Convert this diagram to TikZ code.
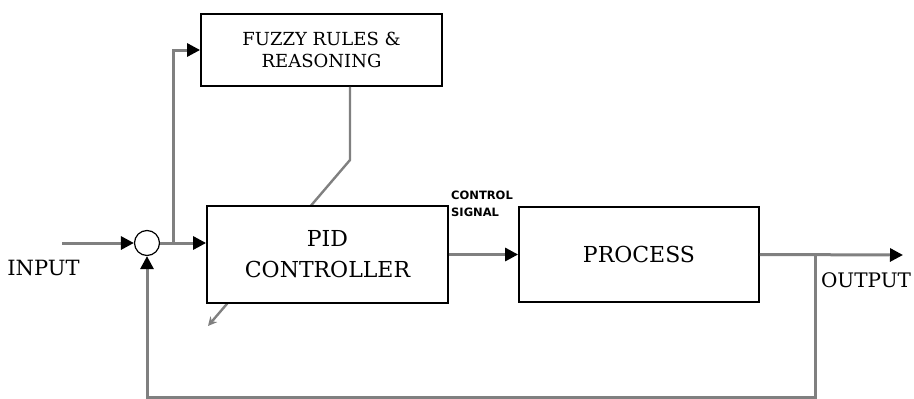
\documentclass[tikz,border=0pt]{standalone}
\usepackage{fontspec}
\setmainfont{DejaVu Serif}
\newfontfamily\smallsans{DejaVu Sans}
\usetikzlibrary{arrows.meta}
\definecolor{wire}{RGB}{128,128,128}
\tikzset{
  block/.style={draw=black, line width=1.8pt, fill=white, align=center, inner sep=0pt},
  wireline/.style={draw=wire, line width=3pt},
  sig/.style={wireline, -{Triangle[length=13pt,width=13pt,fill=black,color=black]}},
  lbl/.style={inner sep=0pt, align=center}
}
\begin{document}
\begin{tikzpicture}[x=1pt,y=-1pt]
\useasboundingbox (0,0) rectangle (914,399);

% fuzzy rule block
\node[block, minimum width=241pt, minimum height=72pt,
      font=\fontsize{18}{22}\selectfont] (fuzzy) at (321.5,50)
  {FUZZY RULES \&\\REASONING};

% tuning line from the fuzzy block, passing behind the PID block
\coordinate (bend) at (350,160);
\coordinate (tune) at (208,326);
\draw[wire, line width=2.4pt, -{Stealth[length=9pt,width=9pt]}]
  (bend |- fuzzy.south) -- (bend) -- (tune);

% main blocks
\node[block, minimum width=241pt, minimum height=97pt,
      font=\fontsize{22}{31}\selectfont] (pid) at (327.5,254.5)
  {PID\\CONTROLLER};
\node[block, minimum width=240pt, minimum height=95pt,
      font=\fontsize{22}{26}\selectfont] (proc) at (639,254.5)
  {PROCESS};

% summing junction
\node[draw=black, line width=1.2pt, circle, minimum size=25pt, inner sep=0pt, fill=white] (sum) at (147,243) {};

% signal path
\coordinate (in) at (62,243);
\coordinate (br) at (173,243);
\coordinate (out) at (903,255);
\coordinate (tap) at (815,255);
\coordinate (fb) at (815,397);

\draw[sig] (in) -- (sum.west);
\draw[sig] (sum.east) -- (sum.east -| pid.west);
\draw[sig] (br) |- (fuzzy.west);
\draw[sig] (pid.east) -- (proc.west);
\draw[sig] (proc.east) -- (out);
\draw[sig] (tap) -- (fb) -| (sum.south);

% labels
\node[lbl, font=\fontsize{21}{24}\selectfont] (inlbl) at (43.5,268) {INPUT};
\node[lbl, font=\fontsize{20}{24}\selectfont] (outlbl) at (866,280) {OUTPUT};
\node[lbl, anchor=west, align=left, font=\smallsans\bfseries\fontsize{11.5}{17}\selectfont] (ctl) at (451,203.5) {CONTROL\\SIGNAL};
\end{tikzpicture}
\end{document}
